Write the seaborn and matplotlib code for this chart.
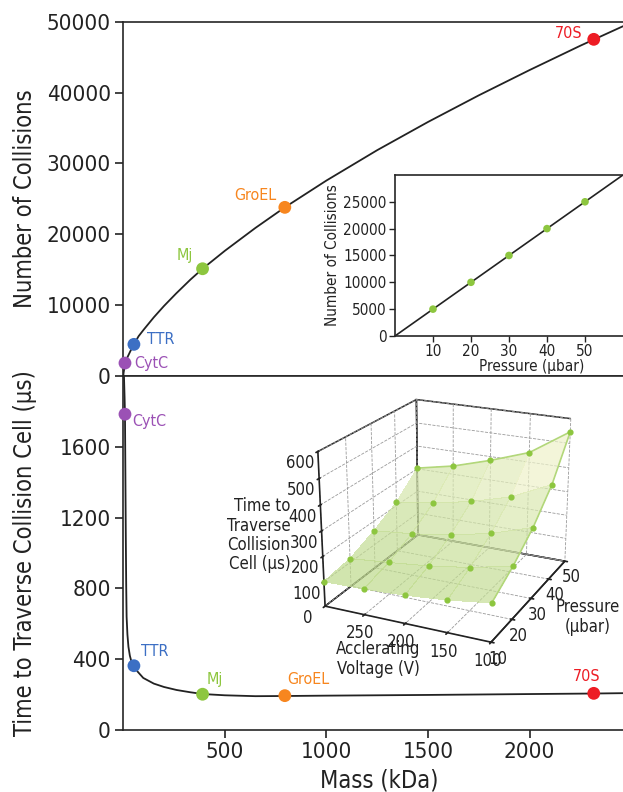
import numpy as np
import matplotlib
matplotlib.use("Agg")
import matplotlib.pyplot as plt
from matplotlib.colors import LinearSegmentedColormap
import seaborn as sns

# labelled proteins
proteins = ["CytC", "TTR", "Mj", "GroEL", "70S"]
protein_mass = [8, 52, 390, 795, 2316]
protein_collisions = [1790, 4430, 15110, 23780, 47510]
protein_time = [1784, 363, 202, 194, 207]
protein_colors = ["#9b51b5", "#3c6fc4", "#8dc63f", "#f7861f", "#ed1c24"]

# curves
curve_mass = [0, 1, 3, 6, 8, 12, 20, 35, 52, 75, 100, 150, 200, 260, 330,
              390, 500, 650, 795, 1000, 1250, 1500, 1750, 2000, 2250, 2460]
curve_collisions = [0, 370, 735, 1140, 1790, 2050, 2600, 3500, 4430, 5580,
                    6500, 8250, 9850, 11620, 13570, 15110, 17650, 20870,
                    23780, 27570, 31860, 35840, 39600, 43170, 46610, 49360]
time_mass = [3, 6, 8, 10, 12, 14, 16, 20, 25, 32, 40, 52, 70, 98, 150, 200,
             262, 330, 393, 500, 650, 800, 1000, 1500, 2000, 2316, 2460]
time_curve = [2000, 1880, 1784, 1450, 1100, 820, 640, 540, 470, 420, 385,
              363, 330, 294, 262, 243, 226, 213, 203, 196, 191, 192, 194,
              198, 203, 206, 208]

# inset: collisions vs pressure
pressure_pts = [10, 20, 30, 40, 50]
pressure_collisions = [5000, 10000, 15000, 20000, 25000]
pressure_line = [0, 60]
pressure_line_collisions = [0, 30000]

# 3d inset: time vs voltage and pressure
voltage = [300, 250, 200, 150, 100]
pressure = [10, 20, 30, 40, 50]
time_grid = [
    [100, 103, 112, 127, 150],
    [116, 131, 148, 173, 210],
    [160, 176, 200, 235, 287],
    [214, 238, 271, 316, 392],
    [303, 336, 384, 440, 547],
]

sns.set_theme(style="ticks")
plt.rcParams["font.family"] = ["DejaVu Sans"]
plt.rcParams["font.stretch"] = "condensed"
plt.rcParams["axes.linewidth"] = 1.2
plt.rcParams["text.color"] = "#222222"
plt.rcParams["axes.labelcolor"] = "#222222"
plt.rcParams["xtick.color"] = "#222222"
plt.rcParams["ytick.color"] = "#222222"

fig = plt.figure(figsize=(6.23, 7.92), dpi=100)
ax_top = fig.add_axes([0.198, 0.5256, 0.802, 0.447])
ax_bot = fig.add_axes([0.198, 0.0783, 0.802, 0.447], sharex=ax_top)

palette = dict(zip(proteins, protein_colors))

# top: number of collisions
sns.lineplot(x=curve_mass, y=curve_collisions, ax=ax_top, color="#222222",
             lw=1.3, estimator=None, sort=False)
sns.scatterplot(x=protein_mass, y=protein_collisions, hue=proteins,
                palette=palette, s=85, edgecolor="none", legend=False,
                ax=ax_top, zorder=3, clip_on=False)
top_offsets = [(9, 0, "left"), (13, 5, "left"), (-10, 13, "right"),
               (-8, 12, "right"), (-11, 6, "right")]
for name, m, n, c, (dx, dy, ha) in zip(proteins, protein_mass,
                                       protein_collisions, protein_colors,
                                       top_offsets):
    ax_top.annotate(name, (m, n), xytext=(dx, dy), textcoords="offset pixels",
                    ha=ha, va="center", color=c, fontsize=11.5)
ax_top.set_ylim(0, 50000)
ax_top.set_yticks([0, 10000, 20000, 30000, 40000, 50000])
ax_top.set_ylabel("Number of Collisions", fontsize=17)
ax_top.tick_params(labelbottom=False)

# bottom: time to traverse
sns.lineplot(x=time_mass, y=time_curve, ax=ax_bot, color="#222222",
             lw=1.3, estimator=None, sort=False)
sns.scatterplot(x=protein_mass, y=protein_time, hue=proteins,
                palette=palette, s=85, edgecolor="none", legend=False,
                ax=ax_bot, zorder=3, clip_on=False)
bot_offsets = [(7, -7, "left"), (7, 14, "left"), (4, 15, "left"),
               (2, 16, "left"), (-7, 17, "center")]
for name, m, t, c, (dx, dy, ha) in zip(proteins, protein_mass, protein_time,
                                       protein_colors, bot_offsets):
    ax_bot.annotate(name, (m, t), xytext=(dx, dy), textcoords="offset pixels",
                    ha=ha, va="center", color=c, fontsize=11.5)
ax_bot.set_ylim(0, 2000)
ax_bot.set_yticks([0, 400, 800, 1200, 1600])
ax_bot.set_xlim(0, 2460)
ax_bot.set_xticks([500, 1000, 1500, 2000])
ax_bot.set_ylabel("Time to Traverse Collision Cell (\u00b5s)", fontsize=17)
ax_bot.set_xlabel("Mass (kDa)", fontsize=17)
ax_bot.xaxis.label.set_x(0.513)

for ax in (ax_top, ax_bot):
    ax.spines["right"].set_visible(False)
    ax.tick_params(direction="out", length=6, width=1.2, labelsize=16, pad=3)
    ax.yaxis.set_label_coords(-0.172, 0.5)

# inset: collisions vs pressure
ax_in = fig.add_axes([0.634, 0.5758, 0.366, 0.2033])
sns.lineplot(x=pressure_line, y=pressure_line_collisions, ax=ax_in,
             color="#222222", lw=1.2, estimator=None)
sns.scatterplot(x=pressure_pts, y=pressure_collisions, ax=ax_in,
                color="#8dc63f", s=30, edgecolor="none", zorder=3)
ax_in.set_xlim(0, 60)
ax_in.set_ylim(0, 30000)
ax_in.set_xticks([10, 20, 30, 40, 50])
ax_in.set_yticks([0, 5000, 10000, 15000, 20000, 25000])
ax_in.spines["right"].set_visible(False)
ax_in.tick_params(direction="out", length=4, width=1.0, labelsize=11, pad=2)
ax_in.set_xlabel("Pressure (\u00b5bar)", fontsize=11, labelpad=0)
ax_in.xaxis.label.set_x(0.6)
ax_in.set_ylabel("Number of Collisions", fontsize=11, labelpad=2)

# 3d inset: pressure on x, voltage on y
surf_cmap = LinearSegmentedColormap.from_list(
    "surf", ["#bcd98a", "#d9e8b0", "#fbf8da"])
ax3 = fig.add_axes([0.451, 0.1414, 0.53, 0.417], projection="3d")
ax3.set_facecolor((1, 1, 1, 0))
Pg, Vg = np.meshgrid(pressure, voltage, indexing="ij")
T = np.array(time_grid)
ax3.plot_surface(Pg, Vg, T, cmap=surf_cmap, vmin=100, vmax=500, alpha=0.7,
                 linewidth=0, antialiased=False, shade=False)
ax3.plot(Pg[-1], Vg[-1], T[-1], color="#b2d77a", lw=1.2)
ax3.plot(Pg[:, -1], Vg[:, -1], T[:, -1], color="#b2d77a", lw=1.2)
ax3.scatter(Pg.ravel(), Vg.ravel(), T.ravel(), color="#8dc63f", s=12,
            depthshade=False)
ax3.set_xlim(10, 50)
ax3.set_ylim(100, 300)
ax3.set_zlim(0, 600)
ax3.set_xticks([10, 20, 30, 40, 50])
ax3.set_yticks([100, 150, 200, 250])
ax3.set_zticks([0, 100, 200, 300, 400, 500, 600])
ax3.set_proj_type("persp", focal_length=0.6)
ax3.view_init(elev=21, azim=-155)
ax3.set_box_aspect((1.15, 1, 0.9), zoom=0.918)
for axis in (ax3.xaxis, ax3.yaxis, ax3.zaxis):
    axis.set_pane_color((1, 1, 1, 0))
    axis.pane.set_alpha(None)
    axis.pane.fill = False
    axis.pane.set_edgecolor("#222222")
    axis.pane.set_linewidth(1.1)
    axis._axinfo["grid"].update(color="#9a9a9a", linestyle="--",
                                linewidth=0.6)
    axis.line.set_color("#222222")
ax3.tick_params(axis="x", labelsize=12, pad=-3)
ax3.tick_params(axis="y", labelsize=12, pad=-3)
ax3.tick_params(axis="z", labelsize=12, pad=0)

fig.text(0.466, 0.324, "Time to\nTraverse\nCollision\nCell (\u00b5s)",
         ha="right", va="center", fontsize=12, linespacing=1.1)
fig.text(0.944, 0.221, "Pressure\n(\u00b5bar)", ha="center", va="center",
         fontsize=12, linespacing=1.1)
fig.text(0.607, 0.168, "Acclerating\nVoltage (V)", ha="center", va="center",
         fontsize=12, linespacing=1.1)

fig.savefig("out.png", dpi=100)
